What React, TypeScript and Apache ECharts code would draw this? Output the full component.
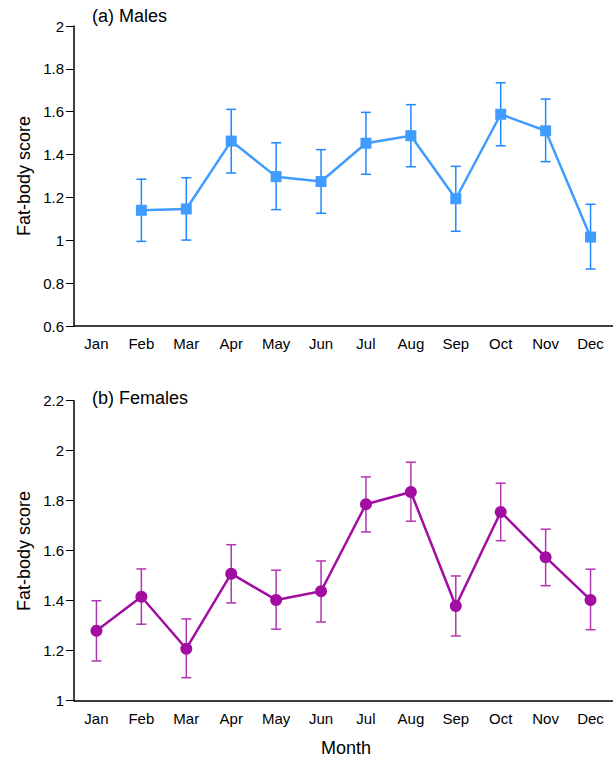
import React, { useEffect, useRef } from "react";
import * as echarts from "echarts";

const months = ["Jan", "Feb", "Mar", "Apr", "May", "Jun", "Jul", "Aug", "Sep", "Oct", "Nov", "Dec"];

const maleMean = [null, 1.14, 1.146, 1.463, 1.297, 1.274, 1.453, 1.488, 1.194, 1.588, 1.511, 1.015];
const maleUpper = [null, 1.285, 1.292, 1.611, 1.455, 1.423, 1.597, 1.633, 1.345, 1.735, 1.659, 1.168];
const maleLower = [null, 0.995, 1.001, 1.314, 1.143, 1.126, 1.308, 1.343, 1.042, 1.441, 1.367, 0.866];

const femaleMean = [1.28, 1.416, 1.208, 1.508, 1.403, 1.438, 1.786, 1.835, 1.379, 1.755, 1.574, 1.403];
const femaleUpper = [1.4, 1.527, 1.327, 1.624, 1.522, 1.559, 1.895, 1.954, 1.499, 1.87, 1.686, 1.526];
const femaleLower = [1.159, 1.306, 1.092, 1.391, 1.286, 1.315, 1.675, 1.718, 1.259, 1.64, 1.46, 1.284];

const maleTicks = { min: 0.6, max: 2, interval: 0.2 };
const femaleTicks = { min: 1, max: 2.2, interval: 0.2 };

const FONT = "'Liberation Sans', Arial, Helvetica, sans-serif";
const BLUE = "#409cff";
const BLUE_ERR = "#1f88ff";
const PURPLE = "#a10ea1";
const PURPLE_ERR = "#b035b0";

function errData(mean: (number | null)[], lo: (number | null)[], hi: (number | null)[]) {
  const out: any[] = [];
  mean.forEach((m, i) => {
    if (m != null) out.push([i, lo[i], hi[i]]);
  });
  return out;
}

function errRender(color: string) {
  return (params: any, api: any) => {
    const i = api.value(0);
    const lo = api.coord([i, api.value(1)]);
    const hi = api.coord([i, api.value(2)]);
    const half = 5;
    const style = { stroke: color, lineWidth: 1.5 };
    return {
      type: "group",
      children: [
        { type: "line", shape: { x1: lo[0], y1: lo[1], x2: hi[0], y2: hi[1] }, style },
        { type: "line", shape: { x1: lo[0] - half, y1: lo[1], x2: lo[0] + half, y2: lo[1] }, style },
        { type: "line", shape: { x1: hi[0] - half, y1: hi[1], x2: hi[0] + half, y2: hi[1] }, style },
      ],
    };
  };
}

function xAxis(gridIndex: number) {
  return {
    type: "category",
    gridIndex,
    data: months,
    boundaryGap: true,
    axisLine: { lineStyle: { color: "#000", width: 1.5 } },
    axisTick: { length: 7, lineStyle: { color: "#000", width: 1 } },
    axisLabel: { color: "#000", fontFamily: FONT, fontSize: 15, margin: 10 },
    splitLine: { show: false },
  };
}

function yAxis(gridIndex: number, t: { min: number; max: number; interval: number }) {
  return {
    type: "value",
    gridIndex,
    min: t.min,
    max: t.max,
    interval: t.interval,
    axisLine: { show: true, lineStyle: { color: "#000", width: 1.5 } },
    axisTick: { show: true, length: 8, lineStyle: { color: "#000", width: 1 } },
    axisLabel: { color: "#000", fontFamily: FONT, fontSize: 15, margin: 10 },
    splitLine: { show: false },
  };
}

export default function App() {
  const ref = useRef<HTMLDivElement>(null);
  useEffect(() => {
    document.body.style.margin = "0";
    if (!ref.current) return;
    const chart = echarts.init(ref.current, undefined, { renderer: "svg" });
    chart.setOption({
      animation: false,
      backgroundColor: "#fff",
      grid: [
        { left: 74, top: 26, width: 542, height: 300 },
        { left: 74, top: 400.7, width: 542, height: 300 },
      ],
      xAxis: [xAxis(0), xAxis(1)],
      yAxis: [yAxis(0, maleTicks), yAxis(1, femaleTicks)],
      graphic: [
        {
          type: "text",
          left: 92,
          top: 7,
          style: { text: "(a) Males", font: `18px ${FONT}`, fill: "#000" },
        },
        {
          type: "text",
          left: 92,
          top: 389,
          style: { text: "(b) Females", font: `18px ${FONT}`, fill: "#000" },
        },
        {
          type: "text",
          x: 24,
          y: 176,
          rotation: Math.PI / 2,
          style: { text: "Fat-body score", font: `18px ${FONT}`, fill: "#000", align: "center", verticalAlign: "middle" },
        },
        {
          type: "text",
          x: 24,
          y: 551,
          rotation: Math.PI / 2,
          style: { text: "Fat-body score", font: `18px ${FONT}`, fill: "#000", align: "center", verticalAlign: "middle" },
        },
        {
          type: "text",
          x: 346,
          y: 748,
          style: { text: "Month", font: `18px ${FONT}`, fill: "#000", align: "center", verticalAlign: "middle" },
        },
      ],
      series: [
        {
          type: "custom",
          xAxisIndex: 0,
          yAxisIndex: 0,
          renderItem: errRender(BLUE_ERR),
          data: errData(maleMean, maleLower, maleUpper),
          z: 1,
        },
        {
          type: "line",
          xAxisIndex: 0,
          yAxisIndex: 0,
          data: maleMean,
          connectNulls: false,
          symbol: "rect",
          symbolSize: 11,
          itemStyle: { color: BLUE },
          lineStyle: { color: BLUE, width: 2.5 },
          z: 2,
        },
        {
          type: "custom",
          xAxisIndex: 1,
          yAxisIndex: 1,
          renderItem: errRender(PURPLE_ERR),
          data: errData(femaleMean, femaleLower, femaleUpper),
          z: 1,
        },
        {
          type: "line",
          xAxisIndex: 1,
          yAxisIndex: 1,
          data: femaleMean,
          symbol: "circle",
          symbolSize: 12,
          itemStyle: { color: PURPLE },
          lineStyle: { color: PURPLE, width: 2.5 },
          z: 2,
        },
      ],
    });
    return () => chart.dispose();
  }, []);
  return <div ref={ref} style={{ width: 613, height: 758 }} />;
}
